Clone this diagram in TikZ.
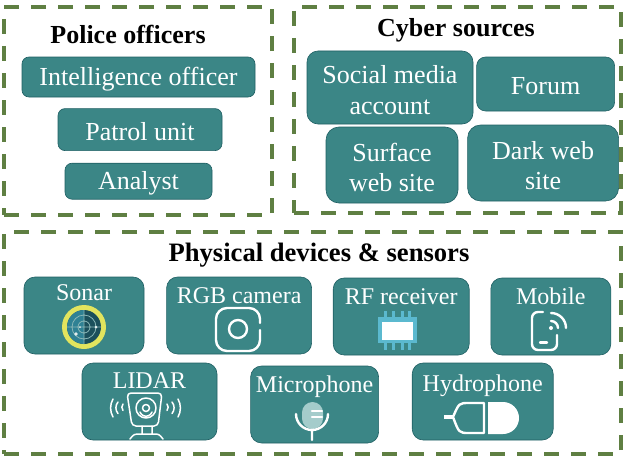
\documentclass[tikz,border=0pt]{standalone}
\usepackage{fontspec}
\setmainfont{Liberation Serif}
\usetikzlibrary{positioning}
\definecolor{tealbox}{HTML}{3B8686}
\definecolor{tealedge}{HTML}{1F5F63}
\definecolor{framegreen}{HTML}{5F7F42}
\definecolor{ringyellow}{HTML}{E2E45E}
\definecolor{chipblue}{HTML}{5BB9CF}
\definecolor{sonarlight}{HTML}{2F8194}
\definecolor{sonardark}{HTML}{1B4F5B}
\definecolor{micpale}{HTML}{A4CCCB}
\newcommand{\lowered}{\rule{0pt}{23pt}}

\begin{document}
\begin{tikzpicture}[
    x=1pt, y=-1pt,
    node distance=10pt,
    frame/.style={rectangle, draw=framegreen, line width=3.6pt, dash pattern=on 15pt off 12pt},
    head/.style={font=\fontsize{26}{30}\selectfont\bfseries, inner sep=0pt},
    box/.style={rectangle, draw=tealedge, line width=0.6pt, fill=tealbox, rounded corners=7pt, text=white, align=center, inner sep=0pt, font=\fontsize{26}{30.5}\selectfont, execute at begin node={\rule{0pt}{22pt}}},
    device/.style={box, rounded corners=11pt, font=\fontsize{24}{28}\selectfont, text height=#1, text depth=69pt-#1, inner ysep=4pt},
    icon/.style={draw=white, line width=2.4pt, line cap=round, line join=round}
]
\useasboundingbox (0,0) rectangle (628,460);

% Frames
\node[frame, minimum width=268pt, minimum height=208pt] (police) at (138,111) {};
\node[frame, minimum width=327pt, minimum height=206pt] (cyber) at (457.5,110) {};
\node[frame, minimum width=617pt, minimum height=222pt] (physical) at (312.5,343) {};

% Titles
\node[head] (policetitle) at (128,34) {Police officers};
\node[head] (cybertitle) at (456,30) {Cyber sources};
\node[head, font=\fontsize{26.6}{30}\selectfont\bfseries] (physicaltitle) at (319,255) {Physical devices \& sensors};

% Police officers
\node[box, minimum width=233pt, minimum height=40pt] (intel) at (138.5,77) {Intelligence officer};
\node[box, minimum width=164pt, minimum height=42pt, below=11pt of intel, xshift=1.5pt] (patrol) {Patrol unit};
\node[box, minimum width=147pt, minimum height=36pt, below=12pt of patrol, xshift=-1.5pt] (analyst) {Analyst};

% Cyber sources
\node[box, rounded corners=11pt, minimum width=166pt, minimum height=73pt] (social) at (390,87.5) {\lowered Social media\\account};
\node[box, rounded corners=9pt, minimum width=138pt, minimum height=54pt, right=3pt of social, yshift=3.5pt] (forum) {Forum};
\node[box, rounded corners=13pt, minimum width=132pt, minimum height=76pt] (surface) at (392,165) {\lowered Surface\\web site};
\node[box, rounded corners=13pt, minimum width=151pt, minimum height=76pt, right=9pt of surface, yshift=2pt] (darkweb) {\lowered Dark web\\site};

% Devices, upper row
\node[device=19pt, minimum width=120pt] (sonar) at (84,315.5) {Sonar};
\node[device=22pt, minimum width=145pt, right=22pt of sonar] (rgb) {RGB camera};
\node[device=22pt, minimum width=136pt, right=21pt of rgb, yshift=-1pt] (rf) {RF receiver};
\node[device=22pt, minimum width=120pt, right=21pt of rf] (mobile) {Mobile};

% Devices, lower row
\node[device=21pt, minimum width=135pt] (lidar) at (149.5,401.5) {LIDAR};
\node[device=22pt, minimum width=128pt, right=33pt of lidar, yshift=-3pt] (micro) {Microphone};
\node[device=24pt, minimum width=141pt, right=33pt of micro, yshift=3pt] (hydro) {Hydrophone};

% Sonar icon
\fill[ringyellow] (84,327) circle (22);
\fill[sonardark] (84,327) circle (17);
\fill[sonarlight] (84,310) arc (-90:-270:17) -- cycle;
\draw[tealbox!60!white, line width=0.8pt] (84,327) circle (6) (84,327) circle (12) (67,327) -- (101,327) (84,310) -- (84,344);
\fill[white!85!tealbox] (76,334) circle (1.8) (96,327) circle (1.5) (80,327) circle (1);

% Camera icon
\draw[icon] (260,323) -- (260,319) arc (0:-90:11) -- (227,308) arc (-90:-180:11) -- (216,340) arc (-180:-270:11) -- (249,351) arc (-270:-360:11) -- (260,330);
\draw[icon] (238,329) circle (9);

% Chip icon
\foreach \pinx in {385,393,402,409}
    \draw[chipblue, line width=3pt] (\pinx,311) -- (\pinx,350);
\fill[chipblue] (378,317) rectangle (417,343);
\fill[white] (382,322) rectangle (413,340);

% Phone icon
\draw[icon] (543,312) -- (538,312) arc (-90:-180:6) -- (532,344) arc (-180:-270:6) -- (551,350) arc (-270:-360:6) -- (557,335);
\draw[icon] (540,342.5) -- (547,342.5);
\draw[icon] (551,321) arc (-90:0:7);
\draw[icon] (551,313) arc (-90:0:15);
\fill[white] (551,328) circle (2);

% Lidar icon
\draw[icon, line width=1.5pt, rounded corners=4pt] (127,393) -- (162,393) -- (158,426) -- (132,426) -- cycle;
\draw[icon, line width=1.5pt] (146,408) circle (10) (146,408) circle (3.5);
\draw[icon, line width=1.5pt] (140,412) arc (-200:-340:6.4);
\draw[icon, line width=1.5pt] (142,426) -- (142,434) (152,426) -- (152,434) (130,439) .. controls (134,434) .. (141,434) -- (153,434) .. controls (159,434) .. (163,439);
\draw[icon, line width=1.5pt] (118,402) arc (-140:-220:9) (123,404) arc (-140:-220:5);
\draw[icon, line width=1.5pt] (113,399) arc (-150:-210:18);
\draw[icon, line width=1.5pt] (172,402) arc (-40:40:9) (167,404) arc (-40:40:5);
\draw[icon, line width=1.5pt] (178,399) arc (-30:30:18);

% Microphone icon
\fill[micpale] (302,412.5) arc (-180:0:10.5) -- (323,418.5) arc (0:180:10.5) -- cycle;
\draw[icon] (312,411) -- (322,411) (312,417) -- (322,417);
\draw[icon] (296,414) arc (-180:-360:16) (312,430) -- (312,440);

% Hydrophone icon
\fill[white] (488,402) -- (503,402) arc (-90:90:16) -- (488,434) -- cycle;
\draw[icon] (484,403) -- (469,403) .. controls (459,403) .. (453,417) .. controls (459,433) .. (469,433) -- (484,433) -- cycle;
\draw[icon, line width=4pt, line cap=butt] (444,417) -- (453,417);

\end{tikzpicture}
\end{document}
